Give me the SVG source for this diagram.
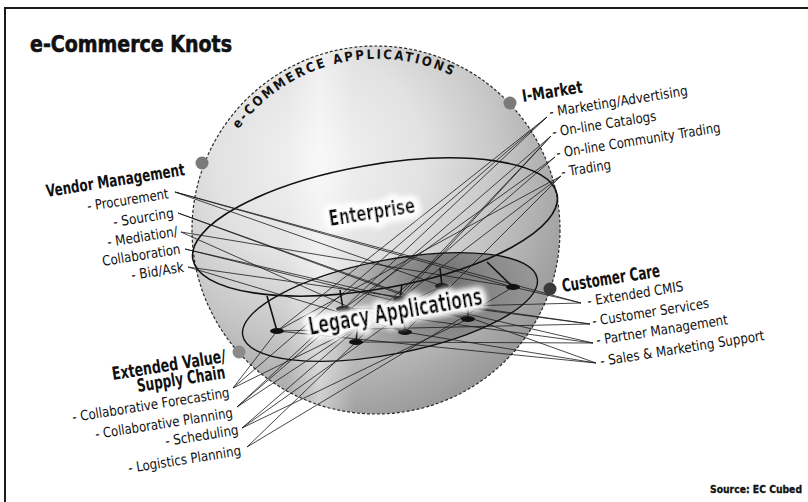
<svg xmlns="http://www.w3.org/2000/svg" width="808" height="502" viewBox="0 0 808 502">
<style>
.t{font-family:"Liberation Sans Narrow","DejaVu Sans Condensed","Liberation Sans",sans-serif;font-size:14px;fill:#111}
.b{font-family:"Liberation Sans Narrow","DejaVu Sans Condensed","Liberation Sans",sans-serif;font-weight:bold;fill:#111}
.ln{stroke:#1a1a1a;stroke-width:0.8;fill:none}
.stem{stroke:#111;stroke-width:1.6}
.pin{fill:#111}
.dot{stroke:none}
</style>
<defs>
<radialGradient id="sph" gradientUnits="userSpaceOnUse" cx="320" cy="160" r="300">
<stop offset="0" stop-color="#f3f3f3"/>
<stop offset="0.35" stop-color="#e2e2e2"/>
<stop offset="0.6" stop-color="#c6c6c6"/>
<stop offset="0.8" stop-color="#a8a8a8"/>
<stop offset="1" stop-color="#8c8c8c"/>
</radialGradient>
<linearGradient id="band" x1="0" y1="0" x2="1" y2="0">
<stop offset="0" stop-color="#fff" stop-opacity="0"/>
<stop offset="0.5" stop-color="#fff" stop-opacity="0.45"/>
<stop offset="1" stop-color="#fff" stop-opacity="0"/>
</linearGradient>
<radialGradient id="leg" gradientUnits="userSpaceOnUse" cx="450" cy="292" r="150">
<stop offset="0" stop-color="#5e5e5e" stop-opacity="0.85"/>
<stop offset="0.45" stop-color="#7a7a7a" stop-opacity="0.6"/>
<stop offset="1" stop-color="#9a9a9a" stop-opacity="0"/>
</radialGradient>
<clipPath id="sphClip"><circle cx="376" cy="230" r="184"/></clipPath>
<filter id="glow" x="-15%" y="-60%" width="130%" height="220%">
<feMorphology in="SourceAlpha" operator="dilate" radius="2.5" result="d"/>
<feGaussianBlur in="d" stdDeviation="3.5" result="bl"/>
<feFlood flood-color="#ffffff"/>
<feComposite in2="bl" operator="in" result="g"/>
<feMerge><feMergeNode in="g"/><feMergeNode in="g"/><feMergeNode in="g"/><feMergeNode in="SourceGraphic"/></feMerge>
</filter>
<path id="arc" d="M 238.6 129.3 A 172 172 0 0 1 462 81"/>
</defs>
<rect x="0" y="0" width="808" height="502" fill="#fff"/>
<path d="M5 502 V8 H808" fill="none" stroke="#1a1a1a" stroke-width="2"/>
<text class="b" x="30" y="52" font-size="23" stroke="#111" stroke-width="0.6" textLength="202" lengthAdjust="spacingAndGlyphs">e-Commerce Knots</text>
<text class="b" x="802" y="493" font-size="11" text-anchor="end" stroke="#111" stroke-width="0.3" textLength="92" lengthAdjust="spacingAndGlyphs">Source: EC Cubed</text>

<g id="sphere">
<circle cx="376" cy="230" r="184" fill="url(#sph)"/>
<rect x="285" y="40" width="70" height="380" fill="url(#band)" clip-path="url(#sphClip)"/>
<circle cx="376" cy="230" r="184" fill="none" stroke="#2a2a2a" stroke-width="1.2" stroke-dasharray="3 2"/>
<text class="b" font-size="13" letter-spacing="2.3" fill="#222"><textPath href="#arc">e-COMMERCE APPLICATIONS</textPath></text>
</g>

<g id="legacy-applications">
<ellipse cx="390" cy="307" rx="150" ry="47" transform="rotate(-11 390 307)" fill="url(#leg)" stroke="#111" stroke-width="1.4"/>
</g>

<g id="enterprise">
<ellipse cx="375" cy="227" rx="185" ry="62" transform="rotate(-10 375 227)" fill="none" stroke="#111" stroke-width="1.6"/>
</g>

<g id="connectors">
<path class="ln" d="M175 192 L513 287 M175 192 L442 286 M175 192 L581 303"/>
<path class="ln" d="M178 213 L468 319 M178 213 L596 363"/>
<path class="ln" d="M181 232 L513 287 M181 232 L405 332"/>
<path class="ln" d="M185 249 L593 343 M185 249 L468 319"/>
<path class="ln" d="M188 267 L405 332 M188 267 L590 324"/>
<path class="ln" d="M547 117 L277 331 M547 117 L343 309 M547 117 L233 388"/>
<path class="ln" d="M551 136 L356 342 M551 136 L400 299 M551 136 L237 407"/>
<path class="ln" d="M555 157 L343 309 M555 157 L242 428"/>
<path class="ln" d="M561 176 L400 299 M561 176 L405 332 M561 176 L277 331"/>
<path class="ln" d="M581 303 L343 309 M581 303 L513 287"/>
<path class="ln" d="M590 324 L277 331 M590 324 L400 299"/>
<path class="ln" d="M593 343 L356 342 M593 343 L343 309"/>
<path class="ln" d="M596 363 L277 331 M596 363 L405 332"/>
<path class="ln" d="M233 388 L277 331 M233 388 L442 286"/>
<path class="ln" d="M237 407 L400 299 M237 407 L343 309"/>
<path class="ln" d="M242 428 L442 286 M242 428 L468 319"/>
<path class="ln" d="M247 447 L513 287 M247 447 L356 342"/>
</g>

<g id="pins">
<line class="stem" x1="267" y1="296" x2="277" y2="331"/>
<line class="stem" x1="340" y1="290" x2="343" y2="309"/>
<line class="stem" x1="358" y1="323" x2="356" y2="342"/>
<line class="stem" x1="402" y1="284" x2="400" y2="299"/>
<line class="stem" x1="403" y1="300" x2="405" y2="332"/>
<line class="stem" x1="440" y1="268" x2="442" y2="286"/>
<line class="stem" x1="468" y1="300" x2="468" y2="319"/>
<line class="stem" x1="487" y1="262" x2="513" y2="287" stroke-width="2.4"/>
<ellipse class="pin" cx="277" cy="331" rx="7" ry="3"/>
<ellipse class="pin" cx="343" cy="309" rx="7" ry="3"/>
<ellipse class="pin" cx="356" cy="342" rx="7" ry="3"/>
<ellipse class="pin" cx="400" cy="299" rx="7" ry="3"/>
<ellipse class="pin" cx="405" cy="332" rx="7" ry="3"/>
<ellipse class="pin" cx="442" cy="286" rx="7" ry="3"/>
<ellipse class="pin" cx="468" cy="319" rx="7" ry="3"/>
<ellipse class="pin" cx="513" cy="287" rx="7" ry="3"/>
</g>

<g id="center-labels">
<text class="b" x="330" y="226" font-size="21" textLength="87" lengthAdjust="spacingAndGlyphs" transform="rotate(-9 330 226)" filter="url(#glow)">Enterprise</text>
<text class="b" x="310" y="335" font-size="25" textLength="176" lengthAdjust="spacingAndGlyphs" transform="rotate(-10 310 335)" filter="url(#glow)">Legacy Applications</text>
</g>

<g id="vendor-management">
<circle class="dot" cx="202" cy="163" r="6.5" fill="#7a7a7a"/>
<text class="b" x="47" y="197" font-size="17" textLength="140" lengthAdjust="spacingAndGlyphs" transform="rotate(-9 47 197)">Vendor Management</text>
<text class="t" x="88" y="211" textLength="82" lengthAdjust="spacingAndGlyphs" transform="rotate(-9 88 211)">- Procurement</text>
<text class="t" x="114" y="227" textLength="61" lengthAdjust="spacingAndGlyphs" transform="rotate(-9 114 227)">- Sourcing</text>
<text class="t" x="108" y="247" textLength="71" lengthAdjust="spacingAndGlyphs" transform="rotate(-9 108 247)">- Mediation/</text>
<text class="t" x="103" y="266" textLength="79" lengthAdjust="spacingAndGlyphs" transform="rotate(-9 103 266)">Collaboration</text>
<text class="t" x="132" y="280" textLength="53" lengthAdjust="spacingAndGlyphs" transform="rotate(-9 132 280)">- Bid/Ask</text>
</g>

<g id="i-market">
<circle class="dot" cx="510" cy="103" r="6.5" fill="#7a7a7a"/>
<text class="b" x="523" y="102" font-size="17" textLength="61" lengthAdjust="spacingAndGlyphs" transform="rotate(-9 523 102)">I-Market</text>
<text class="t" x="550" y="117" textLength="140" lengthAdjust="spacingAndGlyphs" transform="rotate(-9 550 117)">- Marketing/Advertising</text>
<text class="t" x="553" y="137" textLength="105" lengthAdjust="spacingAndGlyphs" transform="rotate(-9 553 137)">- On-line Catalogs</text>
<text class="t" x="557" y="158" textLength="166" lengthAdjust="spacingAndGlyphs" transform="rotate(-9 557 158)">- On-line Community Trading</text>
<text class="t" x="562" y="177" textLength="50" lengthAdjust="spacingAndGlyphs" transform="rotate(-9 562 177)">- Trading</text>
</g>

<g id="customer-care">
<circle class="dot" cx="550" cy="289" r="6.5" fill="#3a3a3a"/>
<text class="b" x="563" y="292" font-size="18" textLength="99" lengthAdjust="spacingAndGlyphs" transform="rotate(-9 563 292)">Customer Care</text>
<text class="t" x="588" y="306" textLength="97" lengthAdjust="spacingAndGlyphs" transform="rotate(-9 588 306)">- Extended CMIS</text>
<text class="t" x="593" y="326" textLength="118" lengthAdjust="spacingAndGlyphs" transform="rotate(-9 593 326)">- Customer Services</text>
<text class="t" x="597" y="345" textLength="133" lengthAdjust="spacingAndGlyphs" transform="rotate(-9 597 345)">- Partner Management</text>
<text class="t" x="601" y="366" textLength="166" lengthAdjust="spacingAndGlyphs" transform="rotate(-9 601 366)">- Sales &amp; Marketing Support</text>
</g>

<g id="extended-value-supply-chain">
<circle class="dot" cx="239" cy="352" r="6.5" fill="#8a8a8a"/>
<text class="b" x="113" y="380" font-size="18" textLength="115" lengthAdjust="spacingAndGlyphs" transform="rotate(-9 113 380)">Extended Value/</text>
<text class="b" x="138" y="392" font-size="18" textLength="89" lengthAdjust="spacingAndGlyphs" transform="rotate(-9 138 392)">Supply Chain</text>
<text class="t" x="73" y="422" textLength="159" lengthAdjust="spacingAndGlyphs" transform="rotate(-9 73 422)">- Collaborative Forecasting</text>
<text class="t" x="96" y="439" textLength="139" lengthAdjust="spacingAndGlyphs" transform="rotate(-9 96 439)">- Collaborative Planning</text>
<text class="t" x="166" y="446" textLength="74" lengthAdjust="spacingAndGlyphs" transform="rotate(-9 166 446)">- Scheduling</text>
<text class="t" x="129" y="473" textLength="114" lengthAdjust="spacingAndGlyphs" transform="rotate(-9 129 473)">- Logistics Planning</text>
</g>
</svg>
